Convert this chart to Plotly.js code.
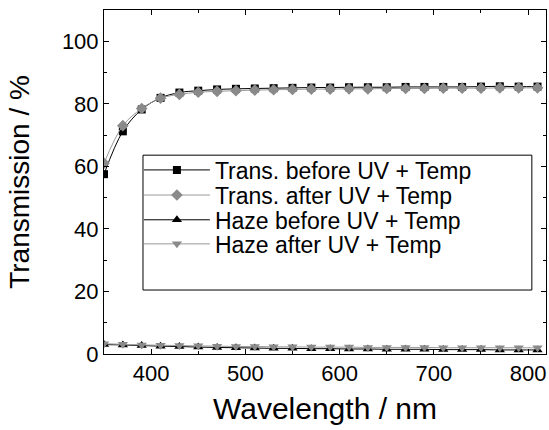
<!DOCTYPE html>
<html><head><meta charset="utf-8">
<script src="https://cdn.plot.ly/plotly-3.0.1.min.js"></script>
<style>html,body{margin:0;padding:0;background:#fff}#chart{width:549px;height:430px}</style>
</head><body><div id="chart"></div>
<script>
const wavelength = [350,370,390,410,430,450,470,490,510,530,550,570,590,610,630,650,670,690,710,730,750,770,790,810];
const transBefore = [57.5,71.2,78.2,81.9,83.6,84.2,84.6,84.8,84.9,85.0,85.1,85.2,85.2,85.3,85.3,85.3,85.4,85.4,85.4,85.4,85.5,85.6,85.5,85.5];
const transAfter = [61.0,73.0,78.5,81.8,83.0,83.7,84.0,84.2,84.4,84.5,84.6,84.7,84.7,84.8,84.8,84.9,84.9,84.9,85.0,85.0,85.0,85.1,85.1,85.1];
const hazeBefore = [3.0,2.9,2.7,2.5,2.4,2.2,2.1,2.0,1.9,1.8,1.8,1.7,1.7,1.6,1.6,1.5,1.5,1.5,1.4,1.4,1.4,1.3,1.3,1.3];
const hazeAfter = [3.3,3.1,2.9,2.8,2.7,2.6,2.5,2.4,2.4,2.3,2.3,2.2,2.2,2.2,2.1,2.1,2.1,2.1,2.0,2.0,2.0,2.0,2.0,2.0];
const names = ["Trans. before UV + Temp","Trans. after UV + Temp","Haze before UV + Temp","Haze after UV + Temp"];

const black = "#000000", gray = "#8a8a8a", grayLine = "#9a9a9a";
function tr(y, name, sym, mcol, lcol, size, leg){
  return {x: wavelength, y: y, name: name, type: "scatter", mode: "lines+markers", legend: leg,
    line: {color: lcol, width: 1, shape: "spline"},
    marker: {symbol: sym, color: mcol, size: size}};
}
const data = [
  tr(transBefore, names[0], "square", black, black, 8, "legend"),
  tr(transAfter, names[1], "diamond", gray, grayLine, 9, "legend2"),
  tr(hazeBefore, names[2], "triangle-up", black, black, 9, "legend3"),
  tr(hazeAfter, names[3], "triangle-down", gray, grayLine, 9, "legend4")
];
const font = {family: "Liberation Sans, Arial, sans-serif", color: "#000"};
function leg(y){
  return {x: 0.079, y: y, xanchor: "left", yanchor: "middle", borderwidth: 0,
    bgcolor: "rgba(0,0,0,0)", itemwidth: 66, font: Object.assign({size: 23}, font)};
}
const layout = {
  width: 549, height: 430,
  margin: {l: 104, r: 3, t: 10, b: 76},
  paper_bgcolor: "#fff", plot_bgcolor: "#fff",
  font: Object.assign({size: 22}, font),
  showlegend: true,
  legend: leg(0.535), legend2: leg(0.462), legend3: leg(0.390), legend4: leg(0.320),
  shapes: [{type: "rect", xref: "paper", yref: "paper", x0: 0.0882, x1: 0.968, y0: 0.186, y1: 0.578,
    line: {color: "#000", width: 1}, fillcolor: "#fff", layer: "below"}],
  xaxis: {range: [350, 819], tickvals: [400,500,600,700,800], ticks: "inside", ticklen: 5,
    tickcolor: "#000", showline: true, linecolor: "#000", linewidth: 1, mirror: "allticks",
    showgrid: false, zeroline: false, tickfont: Object.assign({size: 22}, font),
    minor: {tickvals: [450,550,650,750], ticks: "inside", ticklen: 3, tickcolor: "#000"},
    title: {text: "Wavelength / nm", font: Object.assign({size: 30}, font), standoff: 12}},
  yaxis: {range: [0, 110], tickvals: [0,20,40,60,80,100], ticks: "inside", ticklen: 5,
    tickcolor: "#000", showline: true, linecolor: "#000", linewidth: 1, mirror: "allticks",
    showgrid: false, zeroline: false, tickfont: Object.assign({size: 22}, font),
    minor: {tickvals: [10,30,50,70,90], ticks: "inside", ticklen: 3, tickcolor: "#000"},
    title: {text: "Transmission / %", font: Object.assign({size: 28}, font), standoff: 24}}
};
Plotly.newPlot("chart", data, layout, {displayModeBar: false, staticPlot: true});
</script></body></html>
